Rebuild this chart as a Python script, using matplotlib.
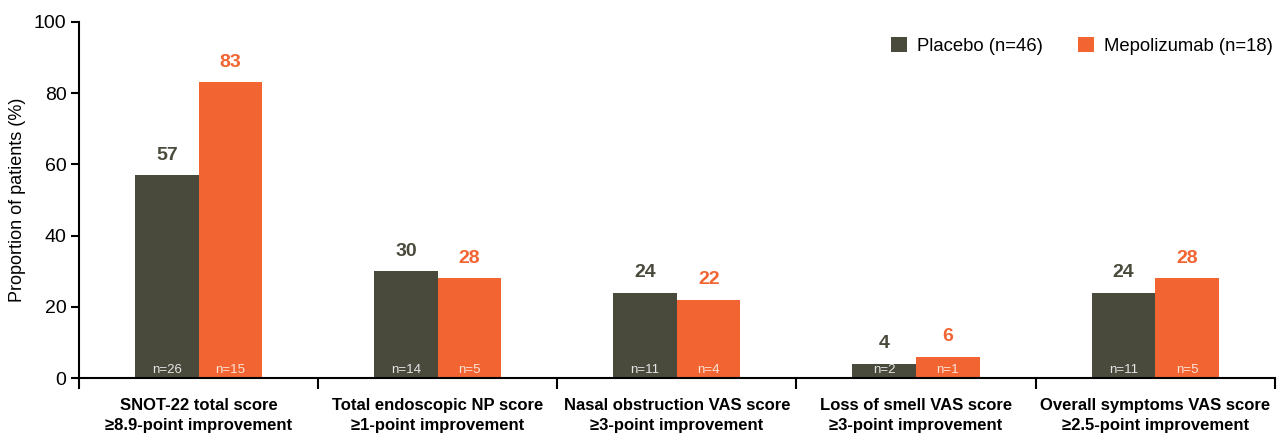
import matplotlib as mpl
mpl.use('Agg')
from matplotlib import pyplot as plt
import numpy as np

categories = ['SNOT-22 total score\n\u22658.9-point improvement',
              'Total endoscopic NP score\n\u22651-point improvement',
              'Nasal obstruction VAS score\n\u22653-point improvement',
              'Loss of smell VAS score\n\u22653-point improvement',
              'Overall symptoms VAS score\n\u22652.5-point improvement']
placebo = [57, 30, 24, 4, 24]
mepo = [83, 28, 22, 6, 28]
placebo_n = [26, 14, 11, 2, 11]
mepo_n = [15, 5, 4, 1, 5]
yticks = [0, 20, 40, 60, 80, 100]

c_pla = '#4a4a3c'
c_mep = '#f26532'

plt.rcParams.update({'font.family': ['Liberation Sans', 'DejaVu Sans'],
                     'font.size': 12})

fig = plt.figure(figsize=(12.85, 4.37), dpi=100)
ax = fig.add_axes([0.0615, 0.135, 0.9305, 0.815])

x = np.arange(len(categories))
bw = 0.266
ax.bar(x - bw / 2, placebo, bw, color=c_pla, label='Placebo (n=46)')
ax.bar(x + bw / 2, mepo, bw, color=c_mep, label='Mepolizumab (n=18)')

for xi, v, n in zip(x - bw / 2, placebo, placebo_n):
    ax.text(xi, v + 3.2, str(v), ha='center', va='bottom', fontsize=14,
            fontweight='bold', color=c_pla)
    ax.text(xi, 0.5, 'n=%d' % n, ha='center', va='bottom', fontsize=9.5, color='#e6e6e6')
for xi, v, n in zip(x + bw / 2, mepo, mepo_n):
    ax.text(xi, v + 3.2, str(v), ha='center', va='bottom', fontsize=14,
            fontweight='bold', color=c_mep)
    ax.text(xi, 0.5, 'n=%d' % n, ha='center', va='bottom', fontsize=9.5, color='#fbe3d8')

ax.set_xlim(-0.5, len(categories) - 0.5)
ax.set_ylim(0, 100)
ax.set_yticks(yticks)
ax.set_ylabel('Proportion of patients (%)', fontsize=13, labelpad=6)
ax.set_xticks(np.arange(len(categories) + 1) - 0.5)
ax.set_xticklabels([])
ax.tick_params(axis='x', length=8, width=1.5)
ax.tick_params(axis='y', length=6, width=1.5, labelsize=14, pad=3)
for xi, lab in zip(x, categories):
    ax.text(xi, -5.6, lab, ha='center', va='top', fontsize=12, fontweight='bold',
            linespacing=1.4)
for s in ['top', 'right']:
    ax.spines[s].set_visible(False)
ax.spines['left'].set_linewidth(1.5)
ax.spines['bottom'].set_linewidth(1.5)

ax.legend(loc='upper right', ncol=2, frameon=False, fontsize=13.3,
          handlelength=0.9, handleheight=0.9, handletextpad=0.5, columnspacing=1.9,
          bbox_to_anchor=(1.012, 1.005))

fig.savefig('out.png', dpi=100)
